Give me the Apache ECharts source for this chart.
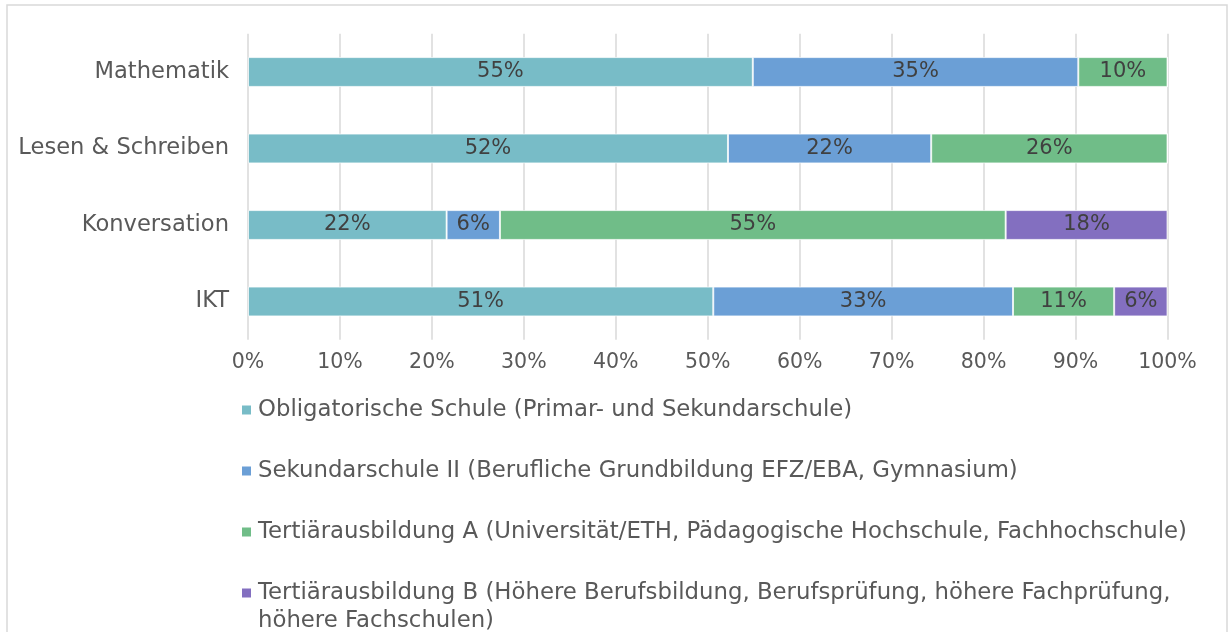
<!DOCTYPE html>
<html>
<head>
<meta charset="utf-8">
<script src="https://cdn.jsdelivr.net/npm/echarts@6/dist/echarts.min.js"></script>
<style>
html,body{margin:0;padding:0;background:#fff;}
#c{width:1228px;height:632px;}
</style>
</head>
<body>
<div id="c"></div>
<script>
var categories = ['Mathematik', 'Lesen & Schreiben', 'Konversation', 'IKT'];
var seriesNames = [
  'Obligatorische Schule (Primar- und Sekundarschule)',
  'Sekundarschule II (Berufliche Grundbildung EFZ/EBA, Gymnasium)',
  'Tertiärausbildung A (Universität/ETH, Pädagogische Hochschule, Fachhochschule)',
  'Tertiärausbildung B (Höhere Berufsbildung, Berufsprüfung, höhere Fachprüfung, höhere Fachschulen)'
];
var obligatorisch = [54.9, 52.2, 21.6, 50.6];
var sekundarII = [35.4, 22.1, 5.8, 32.6];
var tertiaerA = [9.7, 25.7, 55.0, 11.0];
var tertiaerB = [0, 0, 17.6, 5.8];
var xTicks = [0, 10, 20, 30, 40, 50, 60, 70, 80, 90, 100];
var colors = ['#78bcc7', '#6b9fd6', '#70bd88', '#836fc0'];

var FONT = 'DejaVu Sans';
var values = [obligatorisch, sekundarII, tertiaerA, tertiaerB];

var rich = {
  t: {fontFamily: FONT, fontSize: 22.8, color: '#595959', lineHeight: 28},
  gap: {width: 7, height: 9},
  ind: {width: 16, height: 9}
};
colors.forEach(function (c, i) {
  rich['sq' + i] = {width: 9, height: 9, backgroundColor: c};
});

var chart = echarts.init(document.getElementById('c'));
chart.setOption({
  animation: false,
  textStyle: {fontFamily: FONT},
  grid: {left: 248, right: 60.5, top: 33.75, bottom: 292.25, containLabel: false},
  xAxis: {
    type: 'value', min: 0, max: 100, interval: 10,
    axisLine: {show: false}, axisTick: {show: false},
    splitLine: {show: true, lineStyle: {color: '#d9d9d9', width: 1.5}},
    axisLabel: {
      margin: 12, fontFamily: FONT, fontSize: 20.5, color: '#595959',
      formatter: function (v) { return xTicks.indexOf(v) >= 0 ? v + '%' : ''; }
    }
  },
  yAxis: {
    type: 'category', data: categories, inverse: true,
    axisLine: {show: false}, axisTick: {show: false},
    axisLabel: {margin: 19, fontFamily: FONT, fontSize: 22.6, color: '#595959'}
  },
  legend: {
    orient: 'vertical', left: 236, top: 396, itemGap: 33, padding: 0, height: 400,
    itemWidth: 0, itemHeight: 0, selectedMode: false,
    data: seriesNames,
    formatter: function (name) {
      var i = seriesNames.indexOf(name);
      if (i === 3) {
        return '{sq3|}{gap|}{t|Tertiärausbildung B (Höhere Berufsbildung, Berufsprüfung, höhere Fachprüfung,}\n{ind|}{t|höhere Fachschulen)}';
      }
      return '{sq' + i + '|}{gap|}{t|' + name + '}';
    },
    textStyle: {rich: rich, lineHeight: 28}
  },
  graphic: [{
    type: 'rect', silent: true, z: -1,
    shape: {x: 7, y: 5, width: 1220, height: 700},
    style: {fill: 'none', stroke: '#d9d9d9', lineWidth: 1.5}
  }],
  series: seriesNames.map(function (n, i) {
    return {
      name: n, type: 'bar', stack: 'total', barWidth: '39%',
      data: values[i],
      itemStyle: {color: colors[i], borderColor: 'rgba(255,255,255,0.7)', borderWidth: 1},
      label: {
        show: true, position: 'inside', fontFamily: FONT, fontSize: 21, color: '#404040',
        formatter: function (p) { return p.value > 0 ? Math.round(p.value) + '%' : ''; }
      }
    };
  })
});
</script>
</body>
</html>
